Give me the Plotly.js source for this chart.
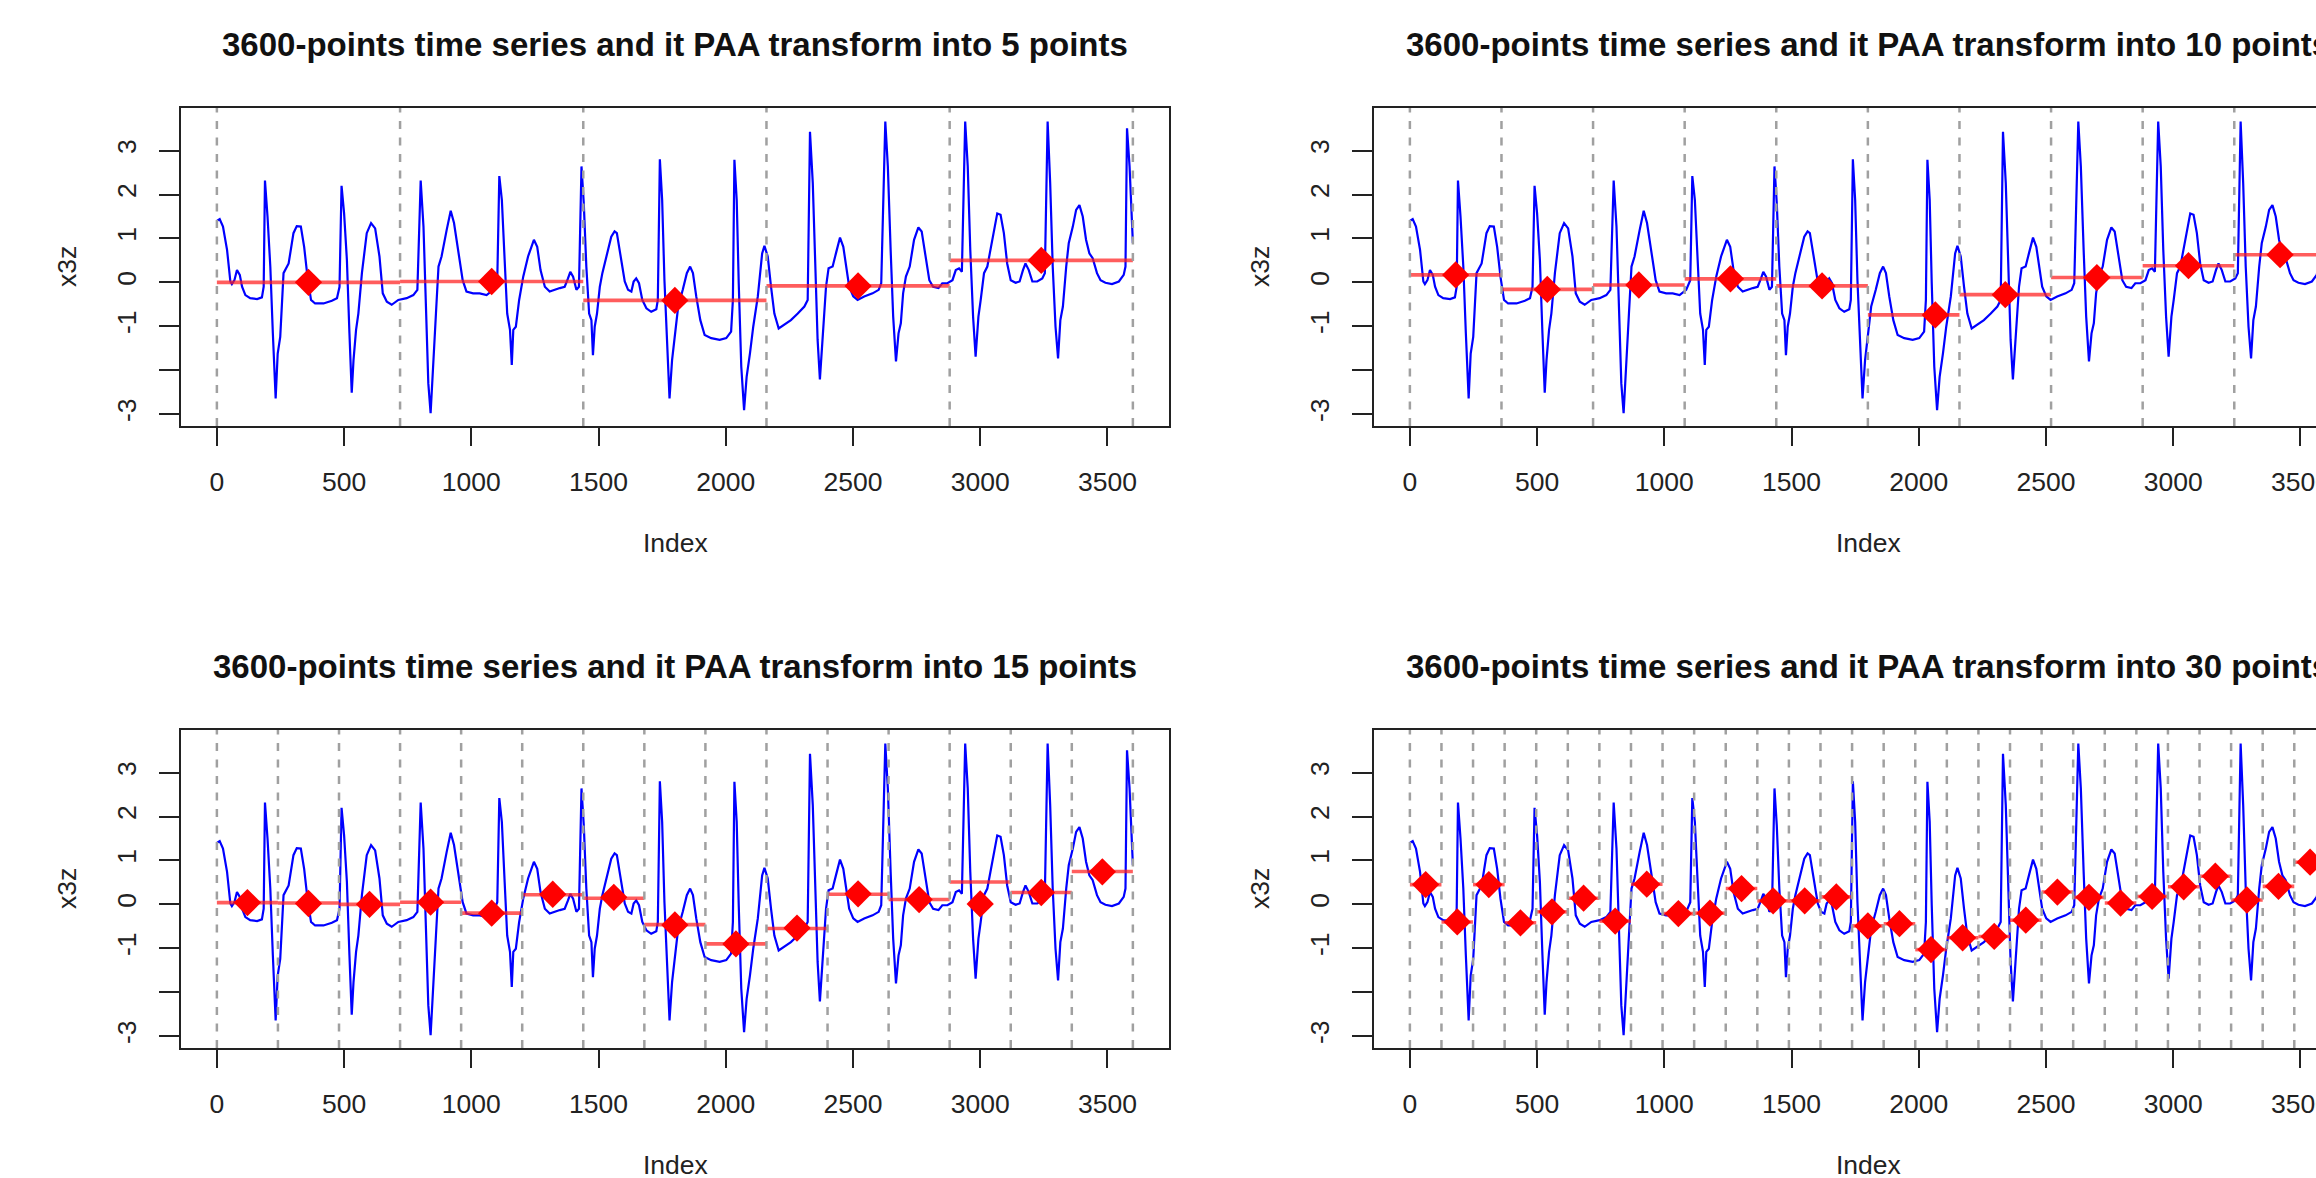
<!DOCTYPE html>
<html>
<head>
<meta charset="utf-8">
<script src="https://cdn.plot.ly/plotly-3.0.1.min.js"></script>
<style>
html,body{margin:0;padding:0;overflow:hidden;background:#ffffff;width:2316px;height:1178px;}
#chart{width:2400px;height:1178px;}
</style>
</head>
<body>
<div id="chart"></div>
<script>
// ---------------- data ----------------
const seriesLength = 3600;
const seriesIndex = [0,11,24,40,53,59,69,79,90,99,112,131,158,177,184,189,199,210,220,231,239,249,262,282,301,314,330,343,356,370,386,419,452,472,482,490,500,511,521,530,537,547,556,570,589,606,622,639,
652,668,687,713,746,772,788,801,812,822,831,840,851,861,871,883,903,919,932,949,966,981,1007,1033,1060,1086,1102,1110,1120,1131,1141,1152,1159,1165,1175,1188,1204,1223,1246,1259,1272,1289,1308,1348,1367,1380,1389,1400,1413,1423,
1433,1442,1452,1463,1472,1478,1485,1494,1505,1515,1531,1550,1563,1572,1585,1603,1616,1629,1638,1648,1659,1672,1688,1707,1727,1733,1741,1750,1759,1769,1779,1789,1800,1813,1831,1847,1860,1871,1884,1900,1917,1943,1976,2002,2021,2028,2034,2043,2051,2061,2072,2082,2095,2108,2126,2143,2152,2165,2178,2191,2208,
2230,2256,2283,2309,2322,2331,2342,2352,2361,2370,2380,2394,2404,2420,2433,2449,2462,2472,2485,2501,2518,2544,2577,2601,2611,2627,2637,2648,2658,2669,2679,2688,2697,2708,2723,2740,2757,2770,2784,2800,2815,2836,2851,2871,2891,2904,2917,2928,2941,2951,2961,2972,2982,2993,
3002,3015,3028,3048,3067,3080,3093,3106,3120,3139,3155,3168,3178,3191,3205,3224,3244,3254,3265,3275,3285,3296,3306,3315,3325,3338,3348,3364,3377,3390,3403,3416,3429,3442,3459,3473,3492,3518,3545,3564,3571,3577,3587,3600];
const seriesValue = [1.40,1.44,1.27,0.74,0.02,-0.04,0.05,0.28,0.17,-0.10,-0.29,-0.36,-0.38,-0.34,-0.10,2.32,1.50,0.36,-1.16,-2.64,-1.62,-1.24,0.21,0.43,1.12,1.28,1.27,0.81,0.13,-0.40,-0.48,-0.48,-0.42,-0.36,-0.10,2.20,1.57,0.51,-1.16,-2.51,-1.77,-1.08,-0.71,0.21,1.12,1.35,1.23,0.59,
-0.25,-0.44,-0.51,-0.40,-0.36,-0.29,-0.17,2.32,1.27,-0.40,-2.30,-2.98,-1.92,-0.71,0.36,0.59,1.19,1.63,1.35,0.66,0.05,-0.21,-0.25,-0.25,-0.29,-0.17,0.05,2.42,1.88,0.51,-0.71,-1.08,-1.88,-1.08,-1.01,-0.40,0.13,0.59,0.97,0.81,0.28,-0.10,-0.21,-0.13,-0.10,0.09,0.24,0.13,-0.17,-0.10,
2.64,1.80,0.36,-0.71,-0.86,-1.66,-1.01,-0.71,-0.10,0.21,0.59,1.04,1.16,1.12,0.66,0.02,-0.17,-0.21,0.02,0.09,-0.02,-0.40,-0.59,-0.67,-0.61,-0.40,2.80,1.88,0.05,-1.16,-2.64,-1.77,-1.16,-0.55,-0.17,0.21,0.36,0.21,-0.32,-0.86,-1.20,-1.27,-1.31,-1.27,-1.12,-0.40,2.79,1.88,-0.02,-1.92,-2.91,-2.15,-1.62,-1.01,-0.32,0.66,0.83,0.59,-0.10,-0.71,-1.05,
-0.97,-0.86,-0.71,-0.55,-0.40,3.43,2.26,0.36,-1.31,-2.21,-1.31,-0.10,0.32,0.36,0.66,1.02,0.81,0.36,-0.10,-0.32,-0.40,-0.32,-0.25,-0.17,-0.02,3.66,2.64,0.74,-0.78,-1.80,-1.16,-0.93,-0.25,0.13,0.36,0.97,1.25,1.16,0.59,0.05,-0.10,-0.13,-0.02,-0.02,0.05,0.28,0.32,0.24,3.66,2.64,0.74,-0.78,-1.69,-0.78,
-0.40,0.21,0.36,0.97,1.57,1.54,1.12,0.43,0.05,-0.01,0.02,0.28,0.43,0.28,0.02,0.02,0.09,0.21,3.66,2.26,0.36,-1.01,-1.73,-0.86,-0.55,0.36,0.89,1.27,1.65,1.76,1.50,0.97,0.66,0.55,0.21,0.05,-0.01,-0.04,0.02,0.17,0.36,3.51,2.64,0.90];

const panelTitles = [
  "3600-points time series and it PAA transform into 5 points",
  "3600-points time series and it PAA transform into 10 points",
  "3600-points time series and it PAA transform into 15 points",
  "3600-points time series and it PAA transform into 30 points"
];
const boundaryCounts = [6, 11, 16, 30];

const paa5Value = [0.00, 0.02, -0.41, -0.08, 0.50];
const paa10Value = [0.17, -0.16, -0.06, 0.08, -0.08, -0.74, -0.28, 0.11, 0.38, 0.63];
const paa10PointIndex = [180, 540, 900, 1260, 1620, 2065, 2340, 2700, 3060, 3420];
const paa15LineValue = [0.04, 0.03, 0.00, 0.05, -0.20, 0.22, 0.14, -0.46, -0.90, -0.55, 0.23, 0.11, 0.51, 0.27, 0.75];
const paa15PointValue = [0.04, 0.02, 0.00, 0.05, -0.20, 0.23, 0.16, -0.47, -0.90, -0.54, 0.24, 0.11, 0.01, 0.27, 0.74];
const paa30Value = [0.45, -0.40, 0.45, -0.42, -0.17, 0.14, -0.38, 0.46, -0.21, -0.20, 0.36, 0.08, 0.08, 0.17, -0.49,
                    -0.44, -1.03, -0.76, -0.73, -0.36, 0.28, 0.16, 0.03, 0.18, 0.40, 0.64, 0.10, 0.41, 0.96];

const xTickValues = [0, 500, 1000, 1500, 2000, 2500, 3000, 3500];
const yTickValues = [-3, -2, -1, 0, 1, 2, 3];
const yTickText = ["-3", "", "-1", "0", "1", "2", "3"];
const xAxisTitle = "Index";
const yAxisTitle = "x3z";

// ---------------- layout constants ----------------
const W = 2400, H = 1178;
const FONT = '"Liberation Sans", Arial, Helvetica, sans-serif';
const INK = '#222222';
const colLeft = [181, 1169], colRight = [1374, 2362];
const rowTop = [108, 426], rowBottom = [730, 1048];

const panels = [
  {xr: colLeft,  yr: rowTop,    lines: paa5Value,      points: paa5Value,       pointIdx: null},
  {xr: colRight, yr: rowTop,    lines: paa10Value,     points: paa10Value,      pointIdx: paa10PointIndex},
  {xr: colLeft,  yr: rowBottom, lines: paa15LineValue, points: paa15PointValue, pointIdx: null},
  {xr: colRight, yr: rowBottom, lines: paa30Value,     points: paa30Value,      pointIdx: null}
];

const traces = [];
const shapes = [];
const annotations = [];
const layout = {
  width: W, height: H,
  margin: {l: 0, r: 0, t: 0, b: 0, pad: 0},
  paper_bgcolor: '#ffffff', plot_bgcolor: '#ffffff',
  showlegend: false,
  font: {family: FONT, color: INK}
};

panels.forEach((p, i) => {
  const sfx = i === 0 ? '' : String(i + 1);
  const xa = 'x' + sfx, ya = 'y' + sfx;
  const count = boundaryCounts[i];
  const bounds = Array.from({length: count}, (_, k) => k * seriesLength / (count - 1));

  layout['xaxis' + sfx] = {
    domain: [p.xr[0] / W, p.xr[1] / W],
    anchor: ya,
    range: [-141, 3742],
    tickvals: xTickValues,
    ticktext: xTickValues.map(String),
    ticks: 'outside', ticklen: 18, tickwidth: 2, tickcolor: INK,
    showline: true, mirror: true, linecolor: INK, linewidth: 2,
    showgrid: false, zeroline: false, fixedrange: true,
    ticklabelstandoff: 13,
    tickfont: {family: FONT, size: 26.5, color: INK}
  };
  layout['yaxis' + sfx] = {
    domain: [1 - p.yr[1] / H, 1 - p.yr[0] / H],
    anchor: xa,
    range: [-3.27, 3.97],
    tickvals: yTickValues,
    ticktext: yTickText,
    tickangle: -90,
    ticks: 'outside', ticklen: 20, tickwidth: 2, tickcolor: INK,
    showline: true, mirror: true, linecolor: INK, linewidth: 2,
    showgrid: false, zeroline: false, fixedrange: true,
    ticklabelstandoff: 12,
    tickfont: {family: FONT, size: 26.5, color: INK}
  };

  // time series
  traces.push({
    type: 'scatter', mode: 'lines', xaxis: xa, yaxis: ya,
    x: seriesIndex, y: seriesValue,
    line: {color: '#0000ff', width: 2.2}, hoverinfo: 'skip'
  });

  // PAA segments
  const sx = [], sy = [], px = [], py = [];
  for (let j = 0; j < count - 1; j++) {
    if (j >= p.lines.length) break;
    sx.push(bounds[j], bounds[j + 1], null);
    sy.push(p.lines[j], p.lines[j], null);
    px.push(p.pointIdx ? p.pointIdx[j] : (bounds[j] + bounds[j + 1]) / 2);
    py.push(p.points[j]);
  }
  traces.push({
    type: 'scatter', mode: 'lines', xaxis: xa, yaxis: ya,
    x: sx, y: sy, connectgaps: false,
    line: {color: 'rgba(255,30,30,0.72)', width: 3.6}, hoverinfo: 'skip'
  });
  traces.push({
    type: 'scatter', mode: 'markers', xaxis: xa, yaxis: ya,
    x: px, y: py,
    marker: {symbol: 'diamond', size: 21, color: '#ff0000', line: {width: 0}},
    hoverinfo: 'skip'
  });

  // segment boundaries
  bounds.forEach(b => shapes.push({
    type: 'line', xref: xa, yref: ya + ' domain',
    x0: b, x1: b, y0: 0, y1: 1, layer: 'above',
    line: {color: '#a0a0a0', width: 2.5, dash: '8px,8.5px'}
  }));

  // texts
  const cx = (p.xr[0] + p.xr[1]) / 2 / W;
  annotations.push({
    xref: 'paper', yref: 'paper', x: cx, y: 1 - (p.yr[0] - 64) / H,
    xanchor: 'center', yanchor: 'middle', showarrow: false,
    text: '<b>' + panelTitles[i] + '</b>',
    font: {family: FONT, size: 33, color: '#111111'}
  });
  annotations.push({
    xref: 'paper', yref: 'paper', x: cx, y: 1 - (p.yr[1] + 117) / H,
    xanchor: 'center', yanchor: 'middle', showarrow: false,
    text: xAxisTitle, font: {family: FONT, size: 26.5, color: INK}
  });
  annotations.push({
    xref: 'paper', yref: 'paper', x: (p.xr[0] - 114) / W, y: 1 - (p.yr[0] + p.yr[1]) / 2 / H,
    xanchor: 'center', yanchor: 'middle', showarrow: false, textangle: -90,
    text: yAxisTitle, font: {family: FONT, size: 26.5, color: INK}
  });
});

layout.shapes = shapes;
layout.annotations = annotations;

Plotly.newPlot('chart', traces, layout, {staticPlot: true, responsive: false, displayModeBar: false});
</script>
</body>
</html>
